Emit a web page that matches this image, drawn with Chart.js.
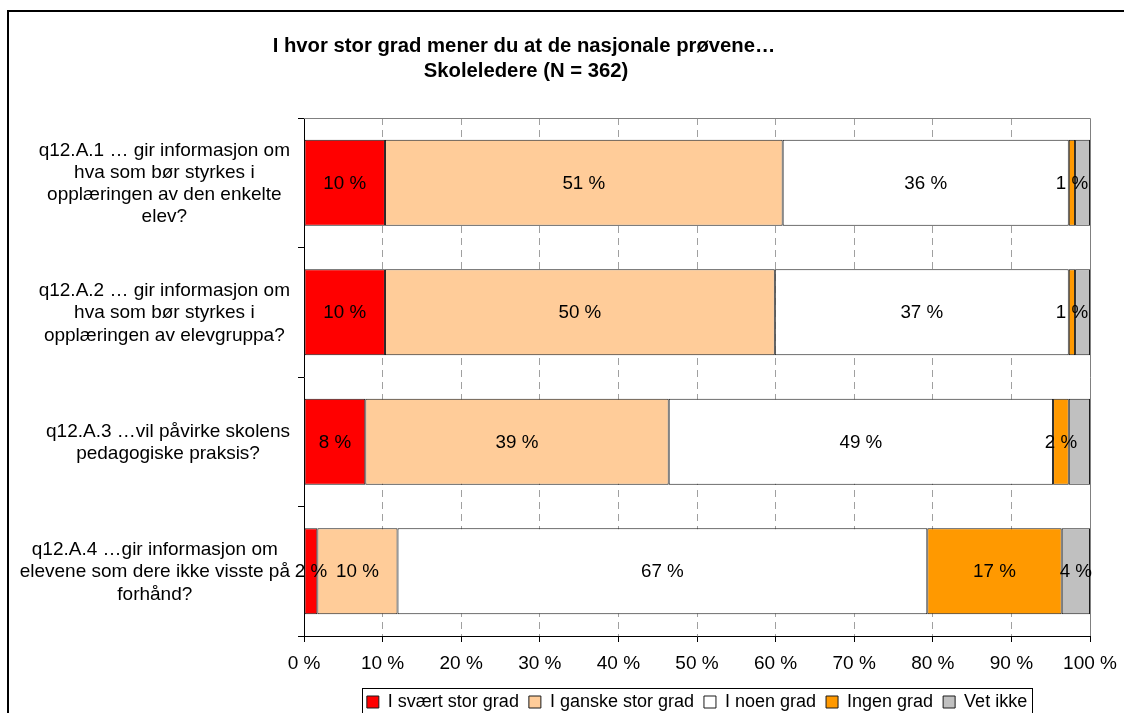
<!DOCTYPE html>
<html lang="no">
<head>
    <meta charset="UTF-8">
    <title>Nasjonale prøver - Skoleledere</title>
    <script src="https://cdn.jsdelivr.net/npm/chart.js"></script>
    <style>
        html, body {
            margin: 0;
            padding: 0;
            background: #fff;
            overflow: hidden;
        }
        #wrap {
            position: absolute;
            left: 0;
            top: 0;
        }
    </style>
</head>
<body>
    <div id="wrap">
        <canvas id="chart" width="1124" height="740"></canvas>
    </div>

    <script>
        const titleLines = ['I hvor stor grad mener du at de nasjonale prøvene…', 'Skoleledere (N = 362)'];

        const categories = [
            ['q12.A.1 … gir informasjon om', 'hva som bør styrkes i', 'opplæringen av den enkelte', 'elev?'],
            ['q12.A.2 … gir informasjon om', 'hva som bør styrkes i', 'opplæringen av elevgruppa?'],
            ['q12.A.3 …vil påvirke skolens', 'pedagogiske praksis?'],
            ['q12.A.4 …gir informasjon om', 'elevene som dere ikke visste på', 'forhånd?']
        ];

        const seriesNames = ['I svært stor grad', 'I ganske stor grad', 'I noen grad', 'Ingen grad', 'Vet ikke'];
        const svaertStor = [10.3, 10.3, 7.8, 1.7];
        const ganskeStor = [50.6, 49.6, 38.6, 10.2];
        const noenGrad = [36.4, 37.4, 48.9, 67.4];
        const ingenGrad = [0.8, 0.8, 2.0, 17.1];
        const vetIkke = [1.9, 1.9, 2.7, 3.6];
        // Excel only showed the "Vet ikke" label on the last bar
        const vetIkkeLabelShown = [false, false, false, true];

        const xTicks = [0, 10, 20, 30, 40, 50, 60, 70, 80, 90, 100];

        const FONT = '"Liberation Sans", Arial, sans-serif';
        const colors = ['#ff0000', '#ffcc99', '#ffffff', '#ff9900', '#c0c0c0'];
        const values = [svaertStor, ganskeStor, noenGrad, ingenGrad, vetIkke];

        const datasets = seriesNames.map((name, i) => ({
            label: name,
            data: values[i],
            backgroundColor: colors[i],
            borderColor: '#1a1a1a',
            borderWidth: 1,
            borderSkipped: false,
            barPercentage: 0.665,
            categoryPercentage: 1
        }));

        const decorPlugin = {
            id: 'decor',
            beforeDraw(chart) {
                const ctx = chart.ctx;
                ctx.save();
                ctx.fillStyle = '#fff';
                ctx.fillRect(0, 0, chart.width, chart.height);
                ctx.strokeStyle = '#000';
                ctx.lineWidth = 2;
                ctx.strokeRect(8, 11, 2000, 2000);
                ctx.restore();
            },
            beforeDatasetsDraw(chart) {
                const {ctx, chartArea} = chart;
                ctx.save();
                ctx.strokeStyle = '#808080';
                ctx.lineWidth = 1;
                ctx.beginPath();
                ctx.moveTo(chartArea.left, Math.round(chartArea.top) + 0.5);
                ctx.lineTo(Math.round(chartArea.right) + 0.5, Math.round(chartArea.top) + 0.5);
                ctx.lineTo(Math.round(chartArea.right) + 0.5, chartArea.bottom);
                ctx.stroke();
                ctx.restore();
            },
            afterDatasetsDraw(chart) {
                const ctx = chart.ctx;
                ctx.save();
                ctx.font = '18.8px ' + FONT;
                ctx.fillStyle = '#000';
                ctx.textAlign = 'center';
                ctx.textBaseline = 'middle';
                chart.data.datasets.forEach((ds, di) => {
                    const meta = chart.getDatasetMeta(di);
                    meta.data.forEach((bar, i) => {
                        if (di === 4 && !vetIkkeLabelShown[i]) return;
                        const p = bar.getProps(['x', 'y', 'base'], true);
                        const cx = (p.x + p.base) / 2;
                        ctx.fillText(Math.round(ds.data[i]) + ' %', cx, p.y + 1);
                    });
                });
                ctx.restore();
            },
            afterDraw(chart) {
                const {ctx, chartArea} = chart;
                const yScale = chart.scales.y;
                ctx.save();

                // title
                ctx.font = 'bold 20.3px ' + FONT;
                ctx.fillStyle = '#000';
                ctx.textAlign = 'center';
                ctx.textBaseline = 'alphabetic';
                ctx.fillText(titleLines[0], 524, 51.5);
                ctx.fillText(titleLines[1], 526, 76.5);

                // category labels, each block right-aligned, lines centred
                ctx.font = '19px ' + FONT;
                ctx.textBaseline = 'middle';
                categories.forEach((lines, i) => {
                    const yc = yScale.getPixelForValue(i);
                    const widest = Math.max(...lines.map(l => ctx.measureText(l).width));
                    const cx = chartArea.left - 14 - widest / 2;
                    lines.forEach((l, j) => {
                        ctx.fillText(l, cx, yc + (j - (lines.length - 1) / 2) * 22.2 + 1);
                    });
                });

                // legend frame
                const boxes = chart.legend.legendHitBoxes;
                if (boxes && boxes.length) {
                    const left = Math.min(...boxes.map(b => b.left));
                    const right = Math.max(...boxes.map(b => b.left + b.width));
                    const top = boxes[0].top;
                    ctx.strokeStyle = '#000';
                    ctx.lineWidth = 1;
                    ctx.strokeRect(Math.round(left - 5) + 0.5, Math.round(top - 5) + 0.5, Math.round(right - left + 10), 30);
                }
                ctx.restore();
            }
        };

        new Chart(document.getElementById('chart'), {
            type: 'bar',
            data: {
                labels: categories,
                datasets: datasets
            },
            options: {
                indexAxis: 'y',
                responsive: false,
                animation: false,
                layout: {
                    padding: { left: 0, right: 34, top: 118, bottom: 19 }
                },
                scales: {
                    x: {
                        stacked: true,
                        min: 0,
                        max: 100,
                        afterBuildTicks: (scale) => {
                            scale.ticks = xTicks.map(v => ({ value: v }));
                        },
                        afterFit: (scale) => {
                            scale.height = 47;
                            // let the layout padding decide the plot edges
                            scale.paddingLeft = 0;
                            scale.paddingRight = 0;
                        },
                        ticks: {
                            callback: (v) => v + ' %',
                            color: '#000',
                            padding: 10,
                            font: { size: 19, family: FONT }
                        },
                        grid: {
                            color: (c) => (c.tick && (c.tick.value === 0 || c.tick.value === 100)) ? 'rgba(0,0,0,0)' : '#a0a0a0',
                            tickColor: '#000',
                            tickLength: 6,
                            lineWidth: 1
                        },
                        border: {
                            color: '#000',
                            width: 1,
                            dash: [7, 5]
                        }
                    },
                    y: {
                        stacked: true,
                        afterFit: (scale) => { scale.width = 304; },
                        ticks: { display: false },
                        grid: {
                            offset: true,
                            drawOnChartArea: false,
                            tickColor: '#000',
                            tickLength: 6
                        },
                        border: { color: '#000', width: 1 }
                    }
                },
                plugins: {
                    title: { display: false },
                    tooltip: { enabled: false },
                    legend: {
                        position: 'bottom',
                        fullSize: false,
                        labels: {
                            color: '#000',
                            boxWidth: 12,
                            boxHeight: 12,
                            padding: 10,
                            font: { size: 18, family: FONT }
                        }
                    }
                }
            },
            plugins: [decorPlugin]
        });
    </script>
</body>
</html>
